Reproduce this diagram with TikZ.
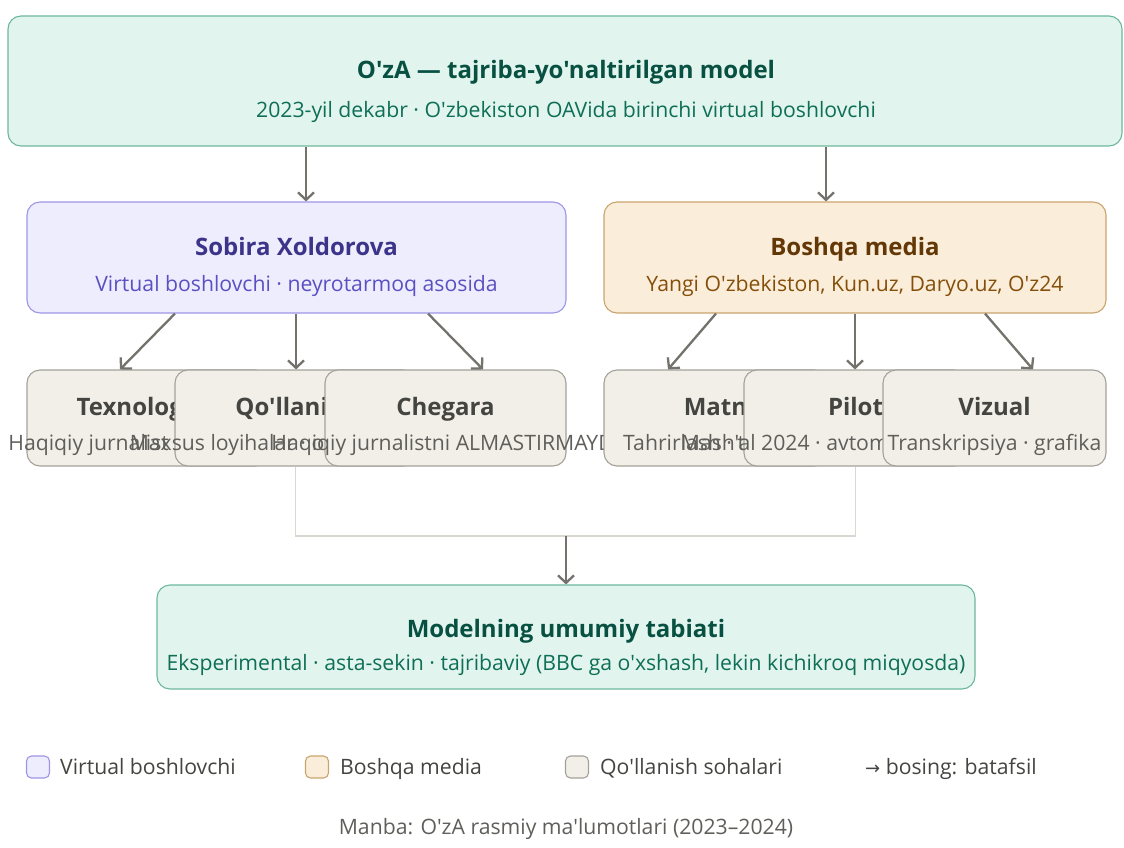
\documentclass[tikz,border=0pt]{standalone}
\usepackage{fontspec}
\newfontfamily\uifont{Open Sans}
\newfontfamily\symfont{DejaVu Sans}
\usepackage{tikz}
\usetikzlibrary{arrows.meta, positioning, calc}

\definecolor{tealfill}{HTML}{E1F5EE}
\definecolor{tealline}{HTML}{6DB89C}
\definecolor{tealhead}{HTML}{085041}
\definecolor{tealtext}{HTML}{0F6E56}
\definecolor{purpfill}{HTML}{EEEDFE}
\definecolor{purpline}{HTML}{9D95E6}
\definecolor{purphead}{HTML}{3C3489}
\definecolor{purptext}{HTML}{5B50C2}
\definecolor{ambfill}{HTML}{FAEEDA}
\definecolor{ambline}{HTML}{C9A46E}
\definecolor{ambhead}{HTML}{633806}
\definecolor{ambtext}{HTML}{854F0B}
\definecolor{grayfill}{HTML}{F1EFE8}
\definecolor{grayline}{HTML}{A3A19A}
\definecolor{grayhead}{HTML}{444441}
\definecolor{graytext}{HTML}{5F5E5A}
\definecolor{arrowgray}{HTML}{73726C}
\definecolor{linkgray}{HTML}{D9D7CF}

\tikzset{
	box/.style={draw, rounded corners=13pt, line width=1.1pt, inner sep=0pt},
	tealbox/.style={box, fill=tealfill, draw=tealline},
	purpbox/.style={box, fill=purpfill, draw=purpline, minimum width=539pt, minimum height=111pt},
	ambbox/.style={box, fill=ambfill, draw=ambline, minimum width=502pt, minimum height=111pt},
	leaf/.style={box, fill=grayfill, draw=grayline, minimum height=96pt},
	headtext/.style={anchor=base, inner sep=0pt, font=\uifont\bfseries\fontsize{24}{28}\selectfont},
	subtext/.style={anchor=base, inner sep=0pt, font=\uifont\fontsize{21.2}{25}\selectfont},
	legtext/.style={anchor=base west, inner sep=0pt, text=grayhead, font=\uifont\fontsize{21.2}{25}\selectfont},
	swatch/.style={draw, rounded corners=5pt, line width=1.1pt, minimum width=23pt, minimum height=22pt, inner sep=0pt},
	arr/.style={draw=arrowgray, line width=2.3pt, -{Straight Barb[length=7.5pt,width=16pt]}},
	link/.style={draw=linkgray, line width=1.5pt}
}

\begin{document}
\begin{tikzpicture}[x=1pt, y=-1pt]
	\useasboundingbox (0,0) rectangle (1124,848);

	% top
	\node[tealbox, minimum width=1114pt, minimum height=130pt] (top) at (565,81) {};
	\node[headtext, text=tealhead] (topT) at (566,79) {O'zA — tajriba-yo'naltirilgan model};
	\node[subtext, text=tealtext] (topS) at (566,118) {2023-yil dekabr · O'zbekiston OAVida birinchi virtual boshlovchi};

	% second row
	\node[purpbox] (sob) at (296.5,257.5) {};
	\node[headtext, text=purphead] (sobT) at (296.5,255.5) {Sobira Xoldorova};
	\node[subtext, text=purptext] (sobS) at (296.5,291) {Virtual boshlovchi · neyrotarmoq asosida};
	\node[ambbox] (med) at (855,257.5) {};
	\node[headtext, text=ambhead] (medT) at (855,255.5) {Boshqa media};
	\node[subtext, text=ambtext] (medS) at (855,291) {Yangi O'zbekiston, Kun.uz, Daryo.uz, O'z24};

	% leaves
	\node[leaf, minimum width=241pt] (tex) at (147.5,418) {};
	\node[headtext, text=grayhead] (texT) at (147.5,415) {Texnologiya};
	\node[subtext, text=graytext] (texS) at (147.5,450) {Haqiqiy jurnalist qiyofasi · AI};
	\node[leaf, minimum width=241pt] (qol) at (295.5,418) {};
	\node[headtext, text=grayhead] (qolT) at (295.5,415) {Qo'llanish};
	\node[subtext, text=graytext] (qolS) at (295.5,450) {Maxsus loyihalar · ob-havo · sport};
	\node[leaf, minimum width=241pt] (che) at (445.5,418) {};
	\node[headtext, text=grayhead] (cheT) at (445.5,415) {Chegara};
	\node[subtext, text=graytext] (cheS) at (445.5,450) {Haqiqiy jurnalistni ALMASTIRMAYDI};
	\node[leaf, minimum width=223pt] (mat) at (715.5,418) {};
	\node[headtext, text=grayhead] (matT) at (715.5,415) {Matn};
	\node[subtext, text=graytext] (matS) at (715.5,450) {Tahrirlash · tarjima};
	\node[leaf, minimum width=223pt] (pil) at (855.5,418) {};
	\node[headtext, text=grayhead] (pilT) at (855.5,415) {Pilot};
	\node[subtext, text=graytext] (pilS) at (855.5,450) {Mash'al 2024 · avtomatik yangiliklar};
	\node[leaf, minimum width=223pt] (viz) at (994.5,418) {};
	\node[headtext, text=grayhead] (vizT) at (994.5,415) {Vizual};
	\node[subtext, text=graytext] (vizS) at (994.5,450) {Transkripsiya · grafika};

	% bottom
	\node[tealbox, minimum width=818pt, minimum height=104pt] (mod) at (566,637) {};
	\node[headtext, text=tealhead] (modT) at (566,637) {Modelning umumiy tabiati};
	\node[subtext, text=tealtext] (modS) at (566,670) {Eksperimental · asta-sekin · tajribaviy (BBC ga o'xshash, lekin kichikroq miqyosda)};

	% arrows
	\draw[arr] (top.south -| 306,0) -- (sob.north -| 306,0);
	\draw[arr] (top.south -| 826,0) -- (med.north -| 826,0);
	\foreach \from/\to/\a/\b in {sob/tex/175/120, sob/qol/296/296, sob/che/428/483,
		med/mat/716/668, med/pil/855/855, med/viz/985/1033}
		\draw[arr] (\from.south -| \a,0) -- (\to.north -| \b,0);
	\draw[link] (qol.south) -- (qol.south |- 0,536) -- (pil.south |- 0,536) -- (pil.south);
	\draw[arr] (mod.north |- 0,536) -- (mod.north);

	% legend
	\node[swatch, fill=purpfill, draw=purpline] (lg1) at (38,767) {};
	\node[legtext] (lg1T) at (60,774) {Virtual boshlovchi};
	\node[swatch, fill=ambfill, draw=ambline] (lg2) at (317,767) {};
	\node[legtext] (lg2T) at (340,774) {Boshqa media};
	\node[swatch, fill=grayfill, draw=grayline] (lg3) at (577,767) {};
	\node[legtext] (lg3T) at (600,774) {Qo'llanish sohalari};
	\node[legtext] (lg4T) at (865,774) {{\symfont\fontsize{18}{22}\selectfont →} bosing: batafsil};
	\node[subtext, text=graytext] (src) at (566,834) {Manba: O'zA rasmiy ma'lumotlari (2023–2024)};
\end{tikzpicture}
\end{document}
